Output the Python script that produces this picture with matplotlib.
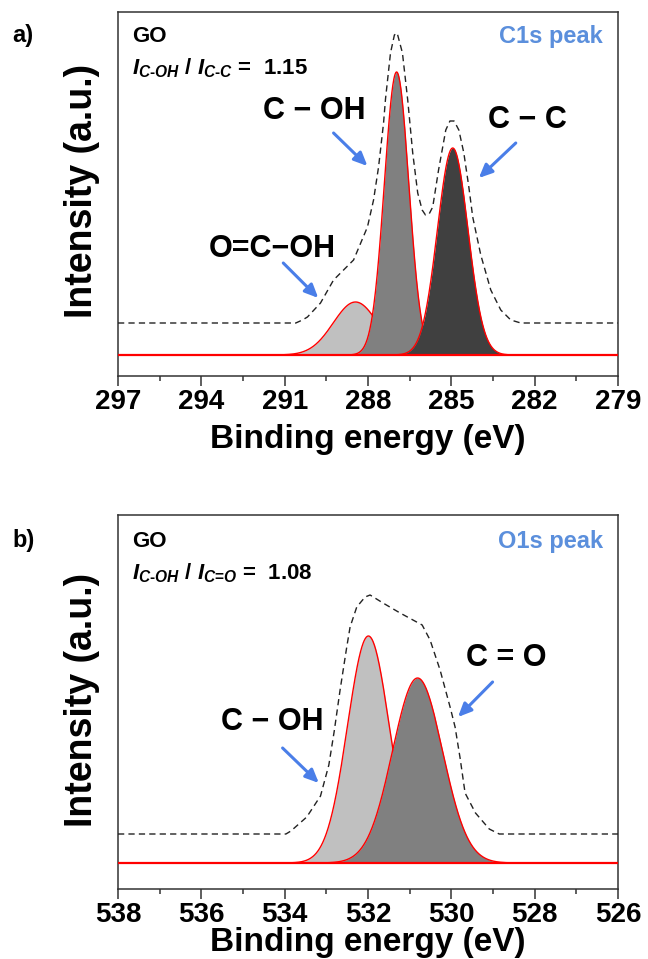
import numpy as np
import matplotlib
matplotlib.use('Agg')
import matplotlib.pyplot as plt
from matplotlib.ticker import MultipleLocator

plt.rcParams['font.family'] = ['Liberation Sans', 'DejaVu Sans']
plt.rcParams['font.weight'] = 'bold'
plt.rcParams['mathtext.fontset'] = 'custom'
plt.rcParams['mathtext.it'] = 'Liberation Sans:italic:bold'
plt.rcParams['mathtext.rm'] = 'Liberation Sans:bold'
plt.rcParams['mathtext.bf'] = 'Liberation Sans:bold'

# ---- C1s data (binding energy in eV, intensity in a.u.) ----
c1s_names = ['O=C\u2212OH', 'C \u2212 OH', 'C \u2212 C']
c1s_center = [288.45, 286.97, 284.95]
c1s_height = [53, 283, 207]
c1s_sigma = [0.80, 0.44, 0.55]

c1s_env_ev = [297.0, 290.6, 290.36, 290.18, 289.71, 289.24, 288.52, 288.02, 287.80,
              287.62, 287.44, 287.37, 287.19, 287.05, 286.95, 286.76, 286.57,
              286.39, 286.21, 286.05, 285.93, 285.80, 285.67, 285.46, 285.20,
              285.05, 284.90, 284.73, 284.55, 284.37, 284.23, 283.94, 283.58,
              283.22, 282.86, 282.5, 279.0]
c1s_env_int = [32, 32, 35, 38, 52, 75, 95, 128, 155,
               188, 232, 256, 302, 320, 322, 302, 255,
               202, 162, 145, 140, 141, 148, 185, 225,
               234, 234, 225, 202, 168, 138, 100, 65,
               45, 35, 32, 32]

# ---- O1s data ----
o1s_names = ['C \u2212 OH', 'C = O']
o1s_center = [531.99, 530.81]
o1s_height = [227, 185]
o1s_sigma = [0.50, 0.60]

o1s_env_ev = [538.0, 533.97, 533.85, 533.47, 533.14, 532.94, 532.81, 532.67, 532.51,
              532.43, 532.27, 532.07, 531.95, 531.64, 531.23, 530.70, 530.51,
              530.27, 530.03, 529.91, 529.79, 529.67, 529.42, 529.09, 528.85, 526.0]
o1s_env_int = [29, 29, 32, 46, 67, 98, 132, 173, 216,
               236, 256, 266, 268, 260, 250, 238, 223,
               193, 156, 136, 105, 70, 50, 34, 29, 29]

W, H = 648, 959
blue = '#4a7ee8'


def fx(px):
    return px / W


def fy(py):
    return 1 - py / H


def draw_panel(ax, xlim, centers, heights, sigmas, fills, env_ev, env_int,
               ylim, major, minor):
    x = np.linspace(min(xlim), max(xlim), 1500)
    # fitted components, later ones drawn over earlier ones
    for c, h, s, f in zip(centers, heights, sigmas, fills):
        y = h * np.exp(-(x - c) ** 2 / (2 * s * s))
        ax.fill_between(x, 0, y, color=f, lw=0, zorder=2)
        ax.plot(x, y, color='red', lw=1.0, zorder=2)
    ax.axhline(0, color='red', lw=1.6, zorder=3)
    # measured spectrum, shifted up
    ax.plot(env_ev, env_int, color='#222222', lw=1.0, ls=(0, (4.5, 3)), zorder=4)
    ax.set_xlim(xlim)
    ax.set_ylim(ylim)
    ax.set_xticks(major)
    ax.xaxis.set_minor_locator(MultipleLocator(minor))
    ax.set_yticks([])
    ax.tick_params(axis='x', which='major', direction='out', length=7.2, width=1.1,
                   labelsize=20, pad=2.5, color='#333333')
    ax.tick_params(axis='x', which='minor', direction='out', length=3.6, width=1.1,
                   color='#333333')
    for sp in ax.spines.values():
        sp.set_linewidth(1.1)
        sp.set_color('#333333')


def arrow(ax, start, end):
    ax.annotate('', xy=end, xytext=start,
                arrowprops=dict(arrowstyle='-|>,head_length=0.8,head_width=0.36',
                                color=blue, lw=2.2, shrinkA=0, shrinkB=0),
                zorder=6)


fig = plt.figure(figsize=(W / 100, H / 100), dpi=100)
ax1 = fig.add_axes([fx(118), fy(376), 500 / W, 364 / H])
ax2 = fig.add_axes([fx(118), fy(889), 500 / W, 374 / H])

# a) C1s
draw_panel(ax1, (297, 279), c1s_center, c1s_height, c1s_sigma,
           ['#c0c0c0', '#808080', '#404040'], c1s_env_ev, c1s_env_int,
           (-21, 343), [297, 294, 291, 288, 285, 282, 279], 1.5)
ax1.text(291.44, 98, c1s_names[0], ha='center', va='baseline', fontsize=22)
ax1.text(289.93, 236, c1s_names[1], ha='center', va='baseline', fontsize=22)
ax1.text(282.25, 227, c1s_names[2], ha='center', va='baseline', fontsize=22)
arrow(ax1, (291.05, 92), (289.79, 57))
arrow(ax1, (289.24, 222), (288.02, 189))
arrow(ax1, (282.68, 212), (284.01, 177))

# b) O1s
draw_panel(ax2, (538, 526), o1s_center, o1s_height, o1s_sigma,
           ['#c0c0c0', '#808080'], o1s_env_ev, o1s_env_int,
           (-26, 348), [538, 536, 534, 532, 530, 528, 526], 1)
ax2.text(534.30, 133, o1s_names[0], ha='center', va='baseline', fontsize=22)
ax2.text(528.68, 197, o1s_names[1], ha='center', va='baseline', fontsize=22)
arrow(ax2, (534.05, 115), (533.18, 80))
arrow(ax2, (529.01, 181), (529.84, 146))

# labels and panel texts
for top, lab, ratio, peak, ymid, xlab in [
        (0, 'a)', r'$I_{C\text{-}OH}$ / $I_{C\text{-}C}$ =  1.15', 'C1s peak', 191, 448),
        (505, 'b)', r'$I_{C\text{-}OH}$ / $I_{C\text{=}O}$ =  1.08', 'O1s peak', 700, 951)]:
    fig.text(fx(12), fy(top + 42), lab, fontsize=17, va='baseline')
    fig.text(fx(132), fy(top + 42), 'GO', fontsize=16, va='baseline')
    fig.text(fx(132), fy(top + 74), ratio, fontsize=16, va='baseline')
    fig.text(fx(603), fy(top + 43), peak, fontsize=17, va='baseline', ha='right',
             color='#5b8fdc')
    fig.text(fx(92), fy(ymid), 'Intensity (a.u.)', fontsize=27, rotation=90,
             rotation_mode='anchor', ha='center', va='baseline')
    fig.text(fx(368), fy(xlab), 'Binding energy (eV)', fontsize=24, ha='center',
             va='baseline')

fig.savefig('out.png', dpi=100)
